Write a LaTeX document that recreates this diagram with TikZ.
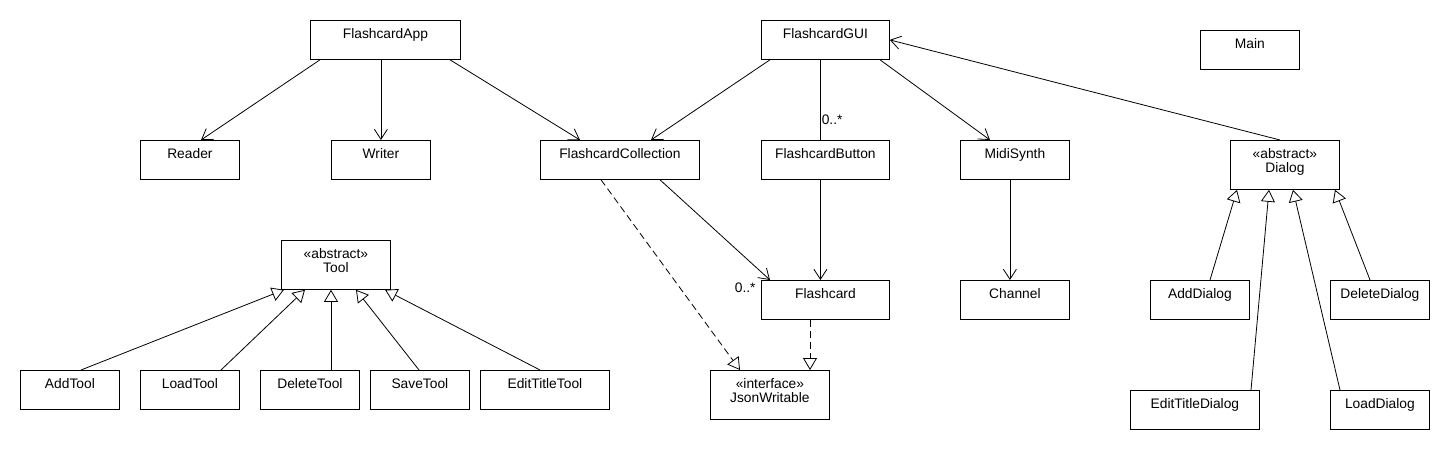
\documentclass[tikz,border=0pt]{standalone}
\usepackage{fontspec}
\setmainfont{Liberation Sans}
\usetikzlibrary{arrows.meta}
\tikzset{cls/.style = {draw, line width=0.8pt, anchor=north west, minimum width=#1, minimum height=39pt, inner xsep=0pt, inner ysep=6pt, text height=12pt, text depth=15pt, font=\fontsize{13.8}{14}\selectfont}}
\tikzset{stereo/.style = {minimum height=49pt, align=center, text height=26pt, text depth=11pt}}
\tikzset{mult/.style = {inner sep=1pt, font=\fontsize{13.8}{14}\selectfont}}
\tikzset{assoc/.style = {line width=0.8pt, -{Straight Barb[length=10pt,width=13pt]}}}
\tikzset{inherit/.style = {line width=0.8pt, -{Triangle[open,length=12pt,width=14pt]}}}
\tikzset{realize/.style = {inherit, dash pattern=on 7pt off 4pt}}

\begin{document}
\begin{tikzpicture}[x=1pt, y=-1pt]
        \useasboundingbox (0,0) rectangle (1450,450);
        % classes
        \node[cls=150] (app) at (310,20) {FlashcardApp};
        \node[cls=128] (gui) at (761,20) {FlashcardGUI};
        \node[cls=99] (main) at (1200,30) {Main};
        \node[cls=99] (reader) at (140,140) {Reader};
        \node[cls=99] (writer) at (331,140) {Writer};
        \node[cls=159] (coll) at (540,140) {FlashcardCollection};
        \node[cls=128] (button) at (761,140) {FlashcardButton};
        \node[cls=109] (midi) at (960,140) {MidiSynth};
        \node[cls=109, stereo] (dialog) at (1230,140) {«abstract»\\Dialog};
        \node[cls=109, stereo] (tool) at (281,240) {«abstract»\\Tool};
        \node[cls=128] (flashcard) at (761,280) {Flashcard};
        \node[cls=109] (channel) at (960,280) {Channel};
        \node[cls=99] (adddlg) at (1150,280) {AddDialog};
        \node[cls=99] (deldlg) at (1330,280) {DeleteDialog};
        \node[cls=99] (addtool) at (20,370) {AddTool};
        \node[cls=99] (loadtool) at (140,370) {LoadTool};
        \node[cls=99] (deltool) at (260,370) {DeleteTool};
        \node[cls=99] (savetool) at (370,370) {SaveTool};
        \node[cls=129] (edittool) at (480,370) {EditTitleTool};
        \node[cls=119, stereo] (json) at (710,370) {«interface»\\JsonWritable};
        \node[cls=129] (editdlg) at (1130,390) {EditTitleDialog};
        \node[cls=99] (loaddlg) at (1330,390) {LoadDialog};
        % associations
        \draw[assoc] ([xshift=10pt]app.south west) -- ([xshift=61pt]reader.north west);
        \draw[assoc] (writer.north |- app.south) -- (writer.north);
        \draw[assoc] ([xshift=140pt]app.south west) -- ([xshift=40pt]coll.north west);
        \draw[assoc] ([xshift=9pt]gui.south west) -- ([xshift=111pt]coll.north west);
        \draw[line width=0.8pt] ([xshift=-5pt]gui.south) -- node[mult, pos=0.75, right] {0..*} ([xshift=-5pt]button.north);
        \draw[assoc] ([xshift=119pt]gui.south west) -- ([xshift=30pt]midi.north west);
        \draw[assoc] ([xshift=50pt]dialog.north west) -- (gui.east);
        \draw[assoc] ([xshift=-5pt]button.south) -- ([xshift=-5pt]flashcard.north);
        \draw[assoc] ([xshift=120pt]coll.south west) -- ([xshift=9pt]flashcard.north west) node[mult, anchor=east, xshift=-13pt, yshift=-8pt] {0..*};
        \draw[assoc] ([xshift=-5pt]midi.south) -- ([xshift=-5pt]channel.north);
        % realizations
        \draw[realize] ([xshift=61pt]coll.south west) -- ([xshift=30pt]json.north west);
        \draw[realize] ([xshift=49pt]flashcard.south west) -- ([xshift=100pt]json.north west);
        % generalizations
        \foreach \sub/\a/\b in {addtool/61/3, loadtool/81/24, deltool/71/50, savetool/49/75, edittool/60/104}
            \draw[inherit] ([xshift=\a pt]\sub.north west) -- ([xshift=\b pt]tool.south west);
        \foreach \sub/\a/\b in {adddlg/60/7, editdlg/121/39, loaddlg/10/63, deldlg/40/105}
            \draw[inherit] ([xshift=\a pt]\sub.north west) -- ([xshift=\b pt]dialog.south west);
    \end{tikzpicture}
\end{document}
